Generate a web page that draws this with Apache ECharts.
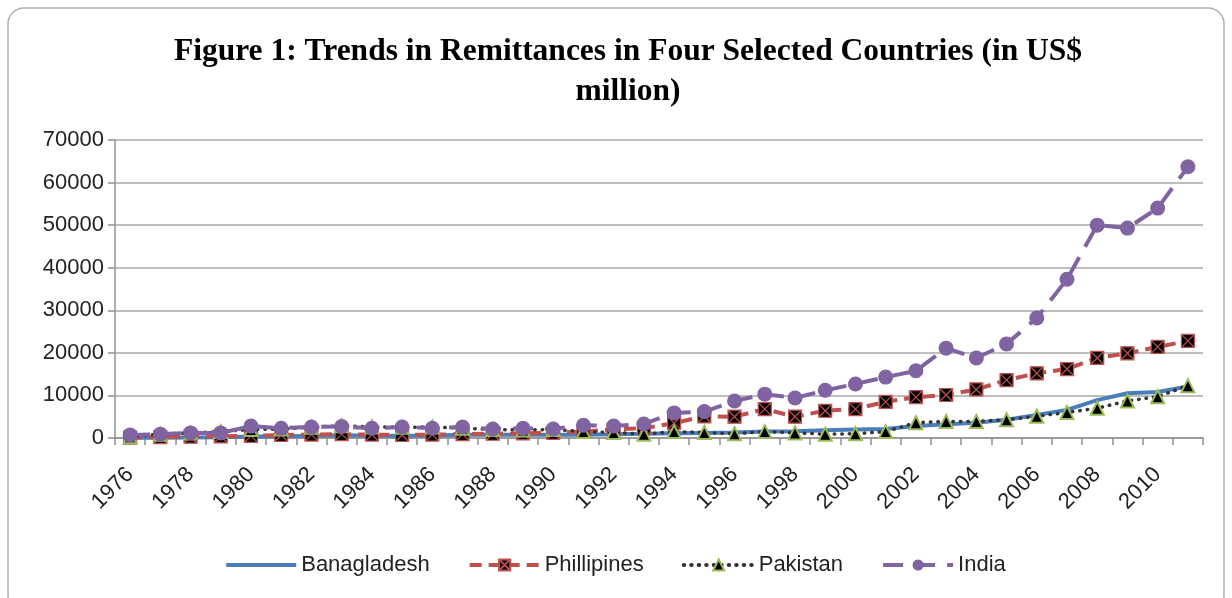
<!DOCTYPE html>
<html><head><meta charset="utf-8">
<script src="https://cdn.jsdelivr.net/npm/echarts@6/dist/echarts.min.js"></script>
<style>html,body{margin:0;padding:0;background:#fff}#c{width:1232px;height:598px}</style>
</head><body><div id="c"></div>
<script>
var years = [];
for (var y = 1976; y <= 2011; y++) years.push(String(y));
var bangladesh = [50,80,120,170,340,380,530,630,500,500,580,750,760,760,780,770,910,1000,1100,1200,1300,1500,1600,1800,2000,2100,2800,3200,3600,4300,5400,6600,8900,10500,10800,12100];
var philippines = [100,200,300,400,500,700,800,900,800,700,800,900,1000,1100,1200,1500,2000,2300,3500,5100,5000,6800,5000,6400,6800,8500,9600,10100,11400,13600,15200,16200,18800,19900,21400,22800];
var pakistan = [300,900,1200,1500,2000,2100,2500,2900,2600,2500,2600,2300,2000,1900,2000,1500,1300,900,1500,1300,1000,1500,1200,900,1000,1500,3600,3900,3900,4300,5100,6000,7000,8700,9700,12300];
var india = [700,900,1200,1200,2800,2300,2600,2700,2300,2600,2300,2600,2100,2300,2100,3000,2800,3300,5900,6200,8700,10300,9400,11200,12700,14300,15800,21100,18800,22100,28200,37300,50000,49300,54000,63700];
var seriesNames = ['Banagladesh','Phillipines','Pakistan','India'];

var chart = echarts.init(document.getElementById('c'), null, {renderer:'canvas'});
var lbl = {fontFamily:'Liberation Sans', fontSize:22, color:'#222'};
chart.setOption({
  animation:false,
  backgroundColor:'#fff',
  graphic:[{type:'rect', shape:{x:8,y:8,width:1216,height:604,r:16}, style:{fill:'none',stroke:'#b0b0b0',lineWidth:1.5}, z:-1}],
  title:{text:'Figure 1: Trends in Remittances in Four Selected Countries (in US$\nmillion)', left:623, top:27, textAlign:'center',
    textStyle:{fontFamily:'Liberation Serif', fontWeight:'bold', fontSize:31.5, lineHeight:40, color:'#000'}},
  grid:{left:115, right:29, top:140, bottom:160, containLabel:false},
  legend:{bottom:17, left:'center', itemWidth:70, itemHeight:14, itemGap:38,
    lineStyle:{width:4},
    textStyle:{fontFamily:'Liberation Sans', fontSize:22, color:'#222'},
    data:[{name:seriesNames[0], icon:'path://M0,0 L70,0 L70,4 L0,4 Z'}, seriesNames[1], seriesNames[2], seriesNames[3]]},
  xAxis:{type:'category', data:years, boundaryGap:true,
    axisLine:{lineStyle:{color:'#909090', width:1.5}},
    axisTick:{show:true, interval:0, length:7, lineStyle:{color:'#909090', width:1.5}},
    axisLabel:Object.assign({interval:1, rotate:45, margin:33}, lbl),
    splitLine:{show:false}},
  yAxis:{type:'value', min:0, max:70000, interval:10000,
    axisLine:{show:true, lineStyle:{color:'#909090', width:1.5}},
    axisTick:{show:true, length:7, lineStyle:{color:'#909090', width:1.5}},
    axisLabel:Object.assign({margin:11, formatter:function(v){return String(v);}}, lbl),
    splitLine:{lineStyle:{color:'#a8a8a8', width:1.5}}},
  series:[
    {name:seriesNames[0], type:'line', data:bangladesh, symbol:'none', color:'#4a7ebb',
      lineStyle:{color:'#4a7ebb', width:4}, z:2},
    {name:seriesNames[1], type:'line', data:philippines, symbol:'path://M0,0 L10,0 L10,10 L0,10 Z M0,0 L10,10 M10,0 L0,10', symbolSize:13,
      color:'#c0504d', itemStyle:{color:'#000', borderColor:'#c0504d', borderWidth:1.2},
      lineStyle:{color:'#c0504d', width:4, type:[12,7]}, z:3},
    {name:seriesNames[2], type:'line', data:pakistan, symbol:'triangle', symbolSize:13,
      color:'#333', itemStyle:{color:'#000', borderColor:'#9bbb59', borderWidth:2},
      lineStyle:{color:'#333', width:3.5, type:[0.5,7], cap:'round'}, z:4},
    {name:seriesNames[3], type:'line', data:india, symbol:'circle', symbolSize:15,
      color:'#8064a2', itemStyle:{color:'#8064a2'},
      lineStyle:{color:'#8064a2', width:4, type:[20,12]}, z:5}
  ]
});
</script></body></html>
